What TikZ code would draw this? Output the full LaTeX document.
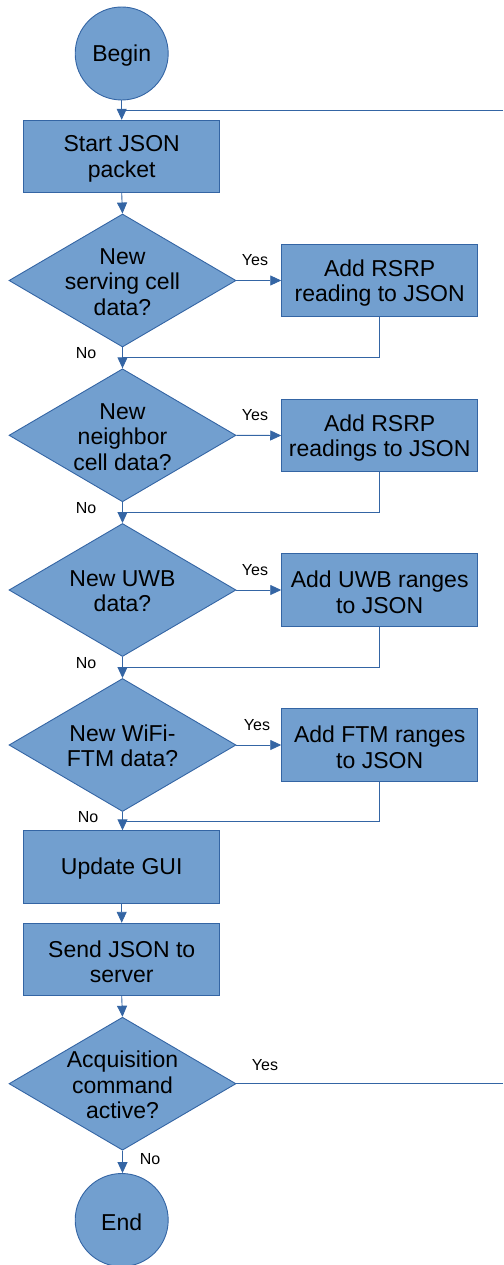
\documentclass[tikz,border=0pt]{standalone}
\usepackage{fontspec}
\setmainfont{Liberation Sans}
\usetikzlibrary{arrows.meta,shapes.geometric}
\definecolor{fillb}{HTML}{729FCF}
\definecolor{lineb}{HTML}{3465A4}
\tikzset{
  bigtxt/.style={font=\fontsize{23}{25.5}\selectfont, align=center, text=black, inner sep=0pt},
  smalltxt/.style={font=\fontsize{16}{18}\selectfont, text=black, inner sep=0pt},
  procbox/.style={draw=lineb, fill=fillb, line width=0.9pt, minimum width=196pt, minimum height=72.5pt, inner sep=0pt},
  termcirc/.style={circle, draw=lineb, fill=fillb, line width=0.9pt, minimum size=93pt, inner sep=0pt},
  decshape/.style={diamond, draw=lineb, fill=fillb, line width=0.9pt, minimum width=227pt, minimum height=133pt, inner sep=0pt, aspect=1.7},
  conn/.style={draw=lineb, line width=0.9pt},
  arr/.style={conn, -{Triangle[length=11pt,width=10pt]}},
}
\begin{document}
\begin{tikzpicture}[x=1pt,y=-1pt]
\useasboundingbox (0,0) rectangle (503,1265);
% shapes
\node[termcirc] (begin) at (121.7,53.5) {};
\node[procbox] (start) at (121.7,156.5) {};
\node[decshape] (d1) at (122.5,280.5) {};
\node[procbox] (b1) at (379.7,280.5) {};
\node[decshape] (d2) at (122.5,435.3) {};
\node[procbox] (b2) at (379.7,435.5) {};
\node[decshape] (d3) at (122.5,590) {};
\node[procbox] (b3) at (379.7,590) {};
\node[decshape] (d4) at (122.5,745) {};
\node[procbox] (b4) at (379.7,745) {};
\node[procbox] (gui) at (121.7,867) {};
\node[procbox] (send) at (121.7,959.5) {};
\node[decshape] (d5) at (122.5,1083.7) {};
\node[termcirc] (end) at (121.7,1220) {};

% texts
\node[bigtxt] (begint) at (121.7,55.5) {Begin};
\node[bigtxt] (startt) at (121.7,159) {Start JSON\\packet};
\node[bigtxt] (d1t) at (122.5,282) {New\\serving cell\\data?};
\node[bigtxt] (b1t) at (379.7,283) {Add RSRP\\reading to JSON};
\node[bigtxt] (d2t) at (122.5,437) {New\\neighbor\\cell data?};
\node[bigtxt] (b2t) at (379.7,438) {Add RSRP\\readings to JSON};
\node[bigtxt] (d3t) at (122.5,591) {New UWB\\data?};
\node[bigtxt] (b3t) at (379.7,592.5) {Add UWB ranges\\to JSON};
\node[bigtxt] (d4t) at (122.5,746) {New WiFi-\\FTM data?};
\node[bigtxt] (b4t) at (379.7,747.5) {Add FTM ranges\\to JSON};
\node[bigtxt] (guit) at (121.7,869) {Update GUI};
\node[bigtxt] (sendt) at (121.7,962) {Send JSON to\\server};
\node[bigtxt] (d5t) at (122.5,1085) {Acquisition\\command\\active?};
\node[bigtxt] (endt) at (121.7,1222) {End};

% labels
\node[smalltxt] (y1) at (255,260) {Yes};
\node[smalltxt] (y2) at (255,415) {Yes};
\node[smalltxt] (y3) at (255,570) {Yes};
\node[smalltxt] (y4) at (257,725) {Yes};
\node[smalltxt] (y5) at (265,1065) {Yes};
\node[smalltxt] (n1) at (86,353) {No};
\node[smalltxt] (n2) at (86,508) {No};
\node[smalltxt] (n3) at (86,663) {No};
\node[smalltxt] (n4) at (88,817) {No};
\node[smalltxt] (n5) at (150,1159) {No};

% coordinates
\coordinate (loopin) at (121.7,110);
\coordinate (loopR) at (503,110);
\coordinate (m1) at (122.5,357.7);
\coordinate (m2) at (122.5,512.7);
\coordinate (m3) at (122.5,667.7);
\coordinate (m4) at (122.5,821.7);
\coordinate (yesR) at (503,1083.7);

% connectors
\draw[arr] (begin.south) -- (start.north);
\draw[conn] (loopR) -- (loopin);
\draw[arr] (start.south) -- (d1.north);

\draw[arr] (d1.east) -- (b1.west);
\draw[conn] (b1.south) |- (m1);
\draw[arr] (d1.south) -- (d2.north);

\draw[arr] (d2.east) -- (b2.west);
\draw[conn] (b2.south) |- (m2);
\draw[arr] (d2.south) -- (d3.north);

\draw[arr] (d3.east) -- (b3.west);
\draw[conn] (b3.south) |- (m3);
\draw[arr] (d3.south) -- (d4.north);

\draw[arr] (d4.east) -- (b4.west);
\draw[conn] (b4.south) |- (m4);
\draw[arr] (d4.south) -- (gui.north -| d4.south);

\draw[arr] (gui.south) -- (send.north);
\draw[arr] (send.south) -- (d5.north);
\draw[conn] (d5.east) -- (yesR);
\draw[arr] (d5.south) -- (end.north -| d5.south);
\end{tikzpicture}
\end{document}
